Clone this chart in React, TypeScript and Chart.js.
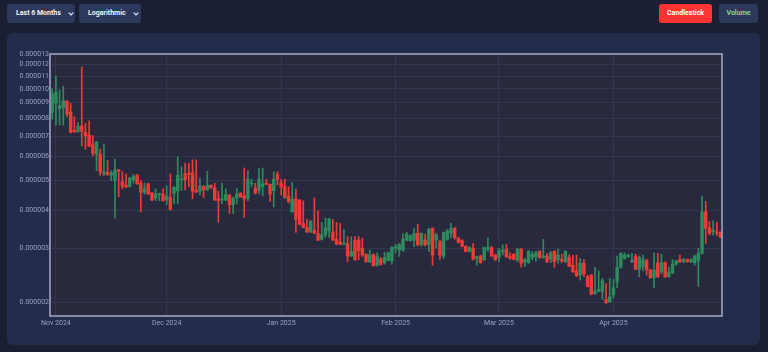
import React, { useEffect, useRef } from 'react';
import { Chart, registerables } from 'chart.js';

Chart.register(...registerables);

// Daily candles, first candle = 2024-10-31 (day -1 relative to 2024-11-01)
const firstDay = -1;
// prices below are in millionths (x 1e-6)
const UNIT = 1e-6;

const opens = [
  8.37,
  8.98, 8.6, 8.67, 9.1, 8.4, 7.31, 7.25, 7.55, 7.2, 7.05, 6.55, 6.1, 6.1, 5.26, 5.33, 5.22, 5.0, 5.42, 4.94, 4.84,
  4.79, 5.03, 5.2, 4.91, 4.58, 4.88, 4.55, 4.38, 4.5, 4.52,
  4.32, 4.4, 4.55, 4.62, 5.03, 5.26, 5.28, 5.3, 4.64, 4.62, 4.78, 4.66, 4.83, 4.73, 4.37, 4.32, 4.32, 4.49, 4.17, 4.38,
  4.55, 4.46, 4.38, 4.88, 4.72, 4.64, 4.78, 4.9, 4.86, 4.64, 5.25,
  4.93, 4.77, 4.45, 3.95, 4.35, 4.32, 3.62, 3.51, 3.39, 3.44, 3.35, 3.21, 3.32, 3.42, 3.39, 3.21, 3.15, 3.09, 3.11, 2.83,
  3.18, 3.19, 3.0, 2.87, 2.71, 2.86, 2.64, 2.76, 2.69, 2.73, 2.73,
  3.0, 2.96, 2.96, 3.19, 3.18, 3.19, 3.36, 3.08, 3.19, 3.08, 3.49, 3.19, 3.15, 2.83, 3.21, 3.36, 3.49, 3.24, 3.18, 3.04,
  2.93, 3.0, 2.78, 2.83, 2.75, 2.98, 3.02, 2.85,
  2.8, 2.93, 2.98, 2.83, 2.87, 2.75, 2.98, 2.71, 2.69, 2.8, 2.82, 2.93, 2.8, 2.83, 2.76, 2.93, 2.75, 2.76, 2.71, 2.8,
  2.64, 2.53, 2.45, 2.68, 2.43, 2.45, 2.13, 2.17, 2.17, 2.04, 2.0,
  2.11, 2.33, 2.6, 2.78, 2.82, 2.71, 2.82, 2.56, 2.61, 2.73, 2.55, 2.4, 2.69, 2.51, 2.69, 2.42, 2.49, 2.66, 2.76, 2.71,
  2.76, 2.71, 2.69, 2.73, 2.89, 3.95, 3.51, 3.4, 3.4, 3.38,
];
const highs = [
  10.0,
  11.0, 9.9, 10.2, 9.15, 8.97, 8.1, 7.75, 11.8, 7.7, 7.85, 7.02, 6.72, 6.34, 6.6, 5.82, 5.39, 5.88, 5.44, 5.35, 5.26,
  5.13, 5.24, 5.24, 5.0, 4.91, 4.9, 4.58, 4.7, 4.55, 4.7,
  4.81, 5.26, 4.78, 5.98, 5.55, 5.7, 5.7, 5.85, 5.85, 5.1, 4.83, 5.36, 4.84, 4.9, 4.61, 4.9, 4.7, 4.5, 4.42, 4.72,
  4.56, 5.5, 5.4, 5.06, 4.9, 5.48, 5.5, 5.06, 4.88, 5.35, 5.35,
  5.05, 5.05, 4.77, 4.93, 4.69, 4.33, 4.29, 3.73, 3.7, 4.39, 3.98, 3.65, 3.77, 3.77, 3.73, 3.65, 3.62, 3.46, 3.28, 3.27,
  3.28, 3.28, 3.24, 2.88, 2.96, 2.88, 2.9, 2.8, 2.91, 2.92, 3.03,
  3.09, 3.11, 3.35, 3.39, 3.32, 3.49, 3.6, 3.37, 3.34, 3.49, 3.5, 3.36, 3.19, 3.39, 3.46, 3.62, 3.51, 3.26, 3.2, 3.06,
  3.04, 3.11, 2.83, 2.85, 3.03, 3.24, 3.04, 2.87,
  3.0, 3.08, 3.09, 2.9, 2.88, 3.0, 3.0, 2.78, 2.95, 2.93, 2.93, 2.95, 3.21, 2.89, 2.93, 2.95, 2.98, 2.87, 2.95, 2.86,
  2.85, 2.85, 2.78, 2.76, 2.45, 2.46, 2.6, 2.53, 2.39, 2.3, 2.39,
  2.37, 2.83, 2.9, 2.9, 2.87, 2.89, 2.87, 2.83, 2.85, 2.76, 2.56, 2.9, 2.89, 2.87, 2.71, 2.6, 2.76, 2.74, 2.85, 2.78,
  2.77, 2.78, 2.85, 3.0, 4.45, 4.27, 3.67, 3.69, 3.65, 3.4,
];
const lows = [
  7.95,
  7.6, 7.6, 7.6, 8.1, 7.16, 7.2, 7.2, 6.5, 6.34, 6.45, 6.02, 5.39, 5.2, 5.2, 5.2, 5.0, 3.77, 4.43, 4.7, 4.74,
  4.76, 4.91, 4.86, 3.95, 4.52, 4.5, 4.3, 4.3, 4.3, 4.28,
  4.17, 4.0, 4.2, 4.2, 4.64, 4.66, 4.78, 4.36, 4.58, 4.5, 4.4, 4.64, 4.72, 4.3, 3.65, 4.2, 4.3, 3.9, 3.9, 4.2,
  4.41, 3.79, 4.3, 4.78, 4.52, 4.52, 4.46, 4.85, 4.27, 4.1, 4.84,
  4.49, 4.37, 4.22, 3.94, 3.38, 3.57, 3.5, 3.38, 3.38, 3.35, 3.18, 3.19, 3.26, 3.26, 3.18, 3.08, 3.08, 3.08, 2.71, 2.82,
  2.74, 2.75, 2.82, 2.7, 2.69, 2.62, 2.62, 2.64, 2.66, 2.73, 2.66,
  2.9, 2.82, 2.93, 3.17, 3.17, 3.04, 3.05, 3.05, 3.05, 2.93, 2.64, 3.0, 2.76, 2.78, 3.19, 3.24, 3.21, 3.12, 3.03, 2.92,
  2.92, 2.75, 2.64, 2.68, 2.74, 2.93, 2.82, 2.74,
  2.71, 2.85, 2.8, 2.76, 2.75, 2.71, 2.6, 2.61, 2.68, 2.75, 2.72, 2.78, 2.78, 2.69, 2.69, 2.6, 2.68, 2.69, 2.69, 2.61,
  2.5, 2.42, 2.36, 2.42, 2.24, 2.11, 2.12, 2.16, 2.04, 1.98, 2.0,
  2.06, 2.23, 2.58, 2.76, 2.8, 2.69, 2.55, 2.42, 2.53, 2.45, 2.39, 2.23, 2.41, 2.48, 2.41, 2.41, 2.48, 2.64, 2.69, 2.69,
  2.7, 2.69, 2.64, 2.25, 2.87, 3.11, 3.32, 3.32, 3.3, 3.25,
];
const closes = [
  9.62,
  9.74, 8.8, 9.15, 8.25, 7.2, 7.22, 7.55, 7.25, 7.02, 6.5, 6.14, 6.69, 5.33, 5.33, 5.23, 5.3, 5.42, 5.38, 4.79, 4.76,
  5.1, 5.16, 4.88, 4.58, 4.7, 4.52, 4.32, 4.52, 4.52, 4.3,
  4.46, 4.03, 4.76, 5.2, 5.06, 5.03, 5.24, 4.62, 4.58, 4.81, 4.66, 4.83, 4.73, 4.32, 4.3, 4.35, 4.5, 4.17, 4.38, 4.52,
  4.42, 4.35, 5.06, 4.9, 4.55, 5.06, 4.88, 4.86, 4.52, 5.05, 5.05,
  4.76, 4.41, 4.27, 4.35, 3.73, 3.6, 3.51, 3.39, 3.68, 3.36, 3.19, 3.32, 3.51, 3.74, 3.19, 3.1, 3.09, 3.12, 2.83, 2.93,
  2.75, 2.95, 2.85, 2.71, 2.85, 2.63, 2.83, 2.66, 2.8, 2.9, 3.03,
  3.04, 3.09, 3.22, 3.34, 3.3, 3.36, 3.08, 3.36, 3.08, 3.46, 2.85, 3.32, 2.85, 3.38, 3.42, 3.49, 3.25, 3.14, 3.04, 2.93,
  3.02, 2.76, 2.82, 2.69, 3.02, 3.02, 2.83, 2.75,
  2.95, 2.96, 2.82, 2.78, 2.76, 2.98, 2.68, 2.75, 2.93, 2.87, 2.9, 2.8, 2.83, 2.71, 2.9, 2.71, 2.85, 2.73, 2.93, 2.62,
  2.51, 2.44, 2.68, 2.47, 2.25, 2.12, 2.17, 2.2, 2.35, 1.99, 2.08,
  2.23, 2.6, 2.89, 2.85, 2.85, 2.75, 2.56, 2.8, 2.75, 2.55, 2.4, 2.55, 2.42, 2.69, 2.42, 2.51, 2.66, 2.73, 2.71, 2.76,
  2.71, 2.75, 2.83, 2.89, 3.95, 3.49, 3.36, 3.44, 3.36, 3.26,
];

// x axis: days since 2024-11-01
const monthTickDays = [0, 30, 61, 92, 120, 151];
const monthTickLabels = ['Nov 2024', 'Dec 2024', 'Jan 2025', 'Feb 2025', 'Mar 2025', 'Apr 2025'];
const xMin = -1.6;
const xMax = 180.4;

const yTickValues = [
  0.000002, 0.000003, 0.000004, 0.000005, 0.000006, 0.000007,
  0.000008, 0.000009, 0.00001, 0.000011, 0.000012, 0.000013,
];
const yTickLabels = [
  '0.000002', '0.000003', '0.000004', '0.000005', '0.000006', '0.000007',
  '0.000008', '0.000009', '0.000010', '0.000011', '0.000012', '0.000013',
];
const yMin = 0.0000018;
const yMax = 0.000013;

const GREEN = '#2f8a5e';
const RED = '#ee3b35';
const PLOT_BG = '#28293d';
const GRID = '#34364d';
const FRAME = '#a6a9c8';
const TICK = '#9aa1c3';
const FONT = 'Roboto, "Liberation Sans", sans-serif';

const framePlugin = {
  id: 'frame',
  beforeDraw(chart: any) {
    const { ctx, chartArea: a } = chart;
    ctx.save();
    ctx.fillStyle = PLOT_BG;
    ctx.fillRect(a.left, a.top, a.right - a.left, a.bottom - a.top);
    ctx.restore();
  },
  afterDatasetsDraw(chart: any) {
    const { ctx, chartArea: a } = chart;
    ctx.save();
    ctx.strokeStyle = FRAME;
    ctx.lineWidth = 1.5;
    ctx.strokeRect(a.left, a.top, a.right - a.left, a.bottom - a.top);
    ctx.restore();
  },
};

function CandleChart() {
  const ref = useRef<HTMLCanvasElement | null>(null);
  useEffect(() => {
    if (!ref.current) return;
    const colors = closes.map((c, i) => (c >= opens[i] ? GREEN : RED));
    const bodies = opens.map((o, i) => ({ x: i + firstDay, y: [o * UNIT, closes[i] * UNIT] }));
    const wicks = lows.map((l, i) => ({ x: i + firstDay, y: [l * UNIT, highs[i] * UNIT] }));
    const chart = new Chart(ref.current, {
      type: 'bar',
      data: {
        datasets: [
          {
            label: 'body',
            data: bodies as any,
            backgroundColor: colors,
            barThickness: 2.8,
            minBarLength: 1,
            grouped: false,
            order: 0,
          } as any,
          {
            label: 'wick',
            data: wicks as any,
            backgroundColor: colors,
            barThickness: 1,
            grouped: false,
            order: 1,
          } as any,
        ],
      },
      options: {
        animation: false,
        responsive: false,
        maintainAspectRatio: false,
        layout: { padding: { top: 54, right: 46, bottom: 16, left: 8 } },
        plugins: { legend: { display: false }, tooltip: { enabled: false } },
        scales: {
          x: {
            type: 'linear',
            min: xMin,
            max: xMax,
            offset: false,
            grid: { color: GRID, drawTicks: false, offset: false, lineWidth: 1 },
            border: { display: false },
            ticks: {
              color: TICK,
              font: { family: FONT, size: 7 },
              padding: 3,
              autoSkip: false,
              maxRotation: 0,
              callback: (_v: any, i: number) => monthTickLabels[i],
            },
            afterBuildTicks: (s: any) => {
              s.ticks = monthTickDays.map((v) => ({ value: v }));
            },
            afterFit: (s: any) => {
              s.height = 20;
            },
          },
          y: {
            type: 'logarithmic',
            min: yMin,
            max: yMax,
            grid: { color: GRID, drawTicks: false, lineWidth: 1 },
            border: { display: false },
            ticks: {
              color: TICK,
              font: { family: FONT, size: 7 },
              padding: 1,
              autoSkip: false,
              callback: (_v: any, i: number) => yTickLabels[i],
            },
            afterBuildTicks: (s: any) => {
              s.ticks = yTickValues.map((v) => ({ value: v }));
            },
            afterFit: (s: any) => {
              s.width = 42;
            },
          },
        },
      } as any,
      plugins: [framePlugin],
    });
    return () => chart.destroy();
  }, []);
  return (
    <canvas
      ref={ref}
      width={768}
      height={352}
      style={{ position: 'absolute', left: 0, top: 0, width: 768, height: 352, pointerEvents: 'none' }}
    />
  );
}

const Chevron = ({ left }: { left: number }) => (
  <svg
    width="6"
    height="4"
    viewBox="0 0 6 4"
    style={{ position: 'absolute', left, top: 8 }}
  >
    <polyline points="0.7,0.7 3,3 5.3,0.7" fill="none" stroke="#e6e9f5" strokeWidth="1.2" />
  </svg>
);

const boxBase: React.CSSProperties = {
  position: 'absolute',
  top: 4,
  height: 19,
  borderRadius: 3,
  fontFamily: FONT,
  fontSize: 7,
  fontWeight: 600,
  lineHeight: '19px',
  boxSizing: 'border-box',
};

export default function App() {
  return (
    <div
      style={{
        position: 'fixed',
        left: 0,
        top: 0,
        width: 768,
        height: 352,
        background: '#1b1f33',
        overflow: 'hidden',
      }}
    >
      <div style={{ ...boxBase, left: 7, width: 68, background: '#2c395c', color: '#ffffff', paddingLeft: 9 }}>
        Last 6 Months
        <Chevron left={61} />
      </div>
      <div style={{ ...boxBase, left: 79, width: 62, background: '#2c395c', color: '#ffffff', paddingLeft: 9 }}>
        Logarithmic
        <Chevron left={54} />
      </div>
      <div
        style={{
          ...boxBase,
          left: 659,
          width: 53,
          background: '#fe3434',
          color: '#ffffff',
          textAlign: 'center',
          fontWeight: 700,
        }}
      >
        Candlestick
      </div>
      <div
        style={{
          ...boxBase,
          left: 719,
          width: 39,
          background: '#2c395c',
          color: '#8fcf8a',
          textAlign: 'center',
          fontWeight: 700,
        }}
      >
        Volume
      </div>
      <div
        style={{
          position: 'absolute',
          left: 7,
          top: 33,
          width: 753,
          height: 312,
          background: '#232c4b',
          borderRadius: 6,
        }}
      />
      <CandleChart />
    </div>
  );
}
